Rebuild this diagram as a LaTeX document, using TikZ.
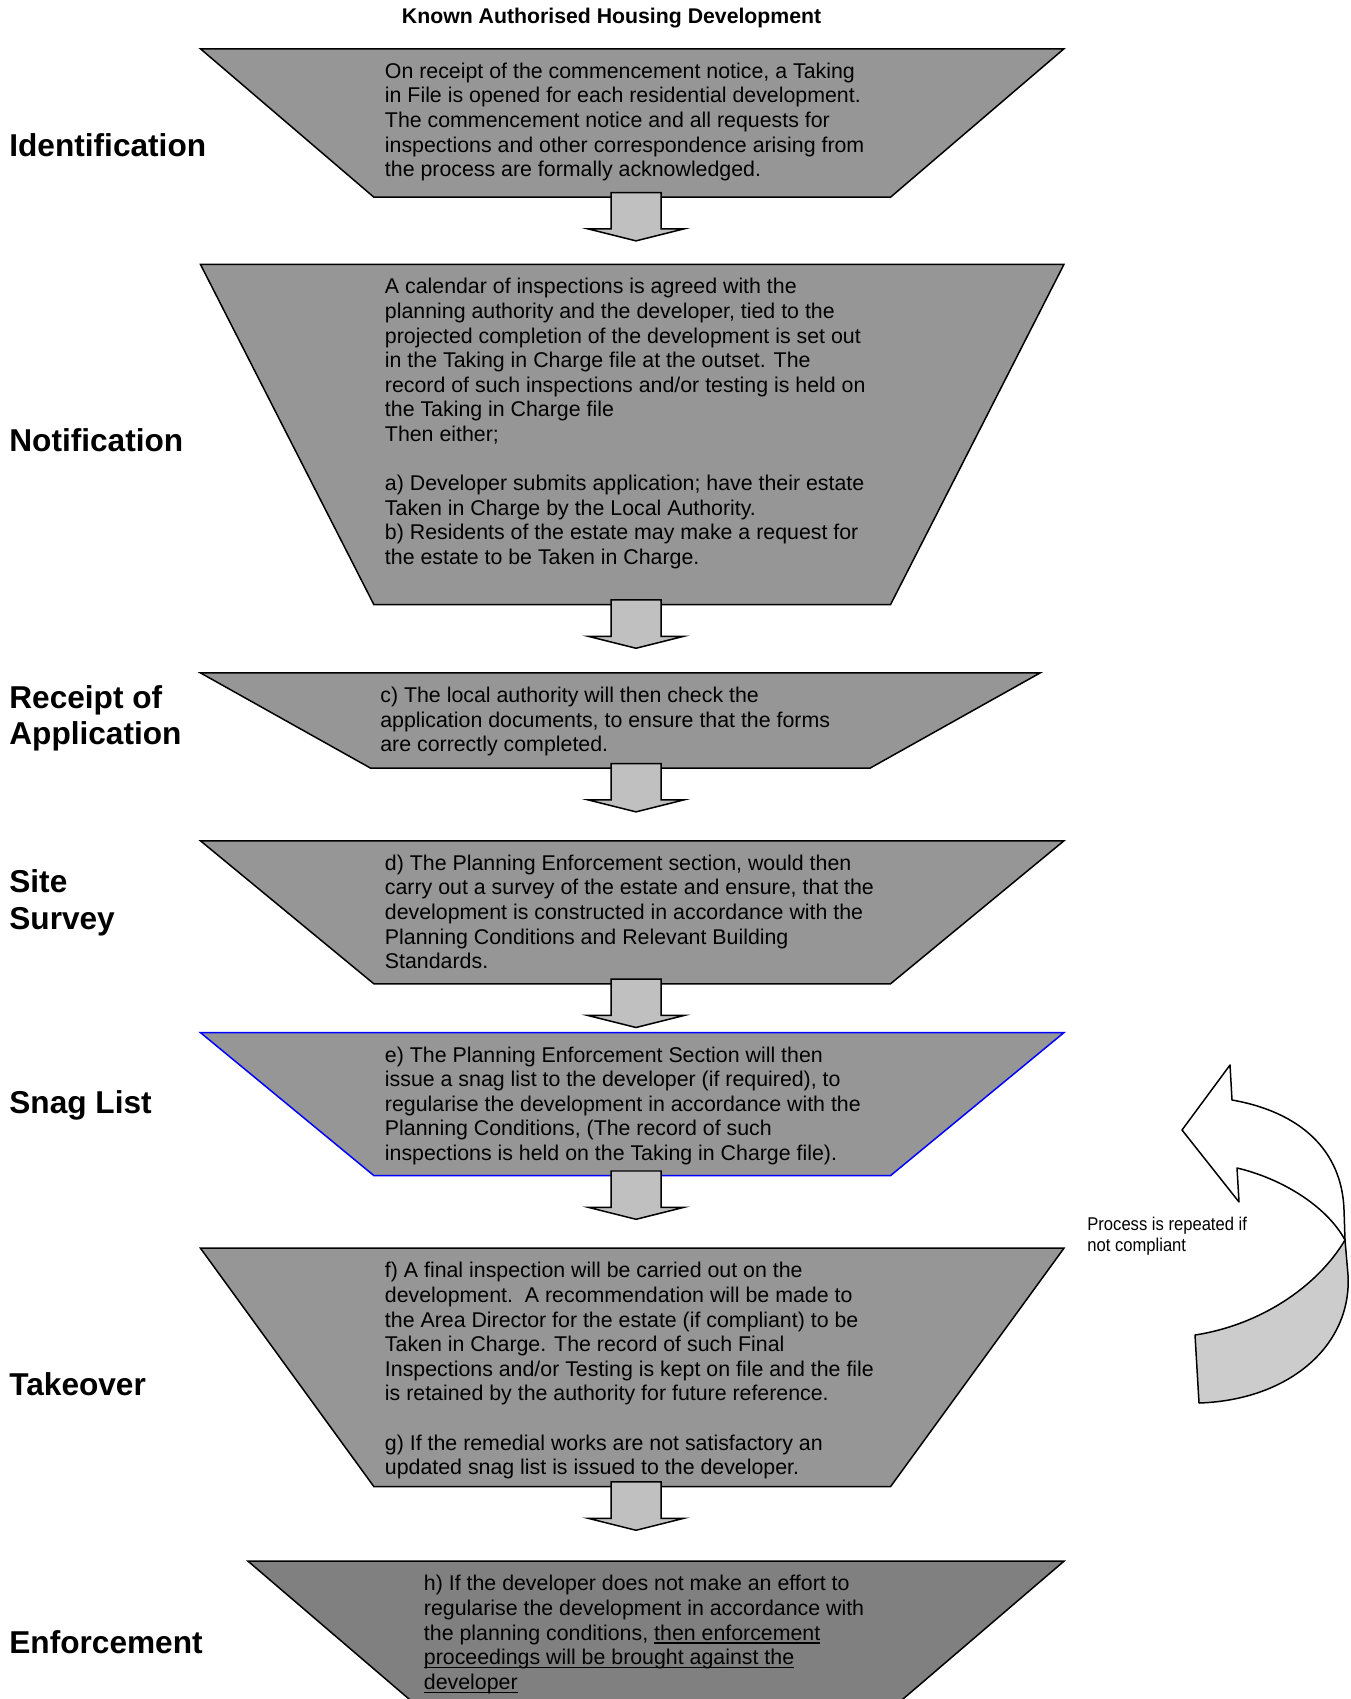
\documentclass[tikz,border=0pt]{standalone}
\usepackage{fontspec}
\setmainfont{Liberation Sans}
\newfontfamily\narrowsans[FakeStretch=0.9]{Liberation Sans}
\usetikzlibrary{
    calc % block arrows between the stages
}

\definecolor{stagegrey}{RGB}{150,150,150}
\definecolor{lastgrey}{RGB}{128,128,128}
\definecolor{arrowgrey}{RGB}{192,192,192}
\definecolor{ribbongrey}{RGB}{204,204,204}

% underline sitting just under the baseline
\newcommand{\lineunder}[1]{\sbox0{#1}\rlap{\rule[-2.2pt]{\wd0}{0.8pt}}\usebox0}

% inverted trapezium over a stage node: #1 style, #2 node, #3 inset of the bottom corners
\newcommand{\stageshape}[3]{%
    \draw[stage_edge, #1] (#2.north west) -- (#2.north east)
        -- ([xshift=-#3]#2.south east) -- ([xshift=#3]#2.south west) -- cycle;
}

% block arrow from one stage down to the next
\newcommand{\stagearrow}[2]{%
    \path (636,0 |- #1.south) coordinate (from) (636,0 |- #2.north) coordinate (to);
    \draw[block_arrow]
        ($(from)!-0.092cm!(to) + (-25,0)$) --
        ($(from)!0.634cm!(to) + (-25,0)$) --
        ($(from)!0.634cm!(to) + (-48,0)$) --
        ($(from)!0.874cm!(to)$) --
        ($(from)!0.634cm!(to) + (48,0)$) --
        ($(from)!0.634cm!(to) + (25,0)$) --
        ($(from)!-0.092cm!(to) + (25,0)$) -- cycle;
}

\begin{document}
\begin{tikzpicture}[x=0.02cm, y=-0.02cm] % 1 unit = 1 pixel, y downwards

    % --- Styles ---
    \tikzset{
        % area of one stage (the trapezium is drawn over it)
        stage_area/.style={
            rectangle,
            inner sep=0pt,
            outer sep=0pt
        },
        stage_edge/.style={
            draw,
            line width=0.85pt,
            line join=miter,
            fill=stagegrey
        },
        % text inside a stage
        stage_text/.style={
            anchor=north west,
            align=left,
            inner sep=0pt,
            font=\fontsize{12.15}{14}\selectfont
        },
        % stage names on the left
        stage_label/.style={
            anchor=north west,
            align=left,
            inner sep=0pt,
            font=\fontsize{18}{20.9}\selectfont\bfseries
        },
        % arrows between the stages
        block_arrow/.style={
            draw,
            line width=0.85pt,
            fill=arrowgrey
        },
        ribbon_edge/.style={
            draw,
            line width=0.85pt,
            line join=round
        }
    }

    \useasboundingbox (0,0) rectangle (1350,1699);
    \fill[white] (0,0) rectangle (1350,1699);
    \clip (0,0) rectangle (1350,1699);

    % --- Title ---
    \node[font=\fontsize{12.1}{14}\selectfont\bfseries] (title) at (611.6,18.5) {Known Authorised Housing Development};

    % --- Stages ---
    \node[stage_area, minimum width=17.272cm, minimum height=2.968cm] (ident) at (632.2,123) {};
    \node[stage_area, minimum width=17.272cm, minimum height=6.804cm] (notif) at (632.2,434.5) {};
    \node[stage_area, minimum width=16.796cm, minimum height=1.906cm] (receipt) at (620.3,720.55) {};
    \node[stage_area, minimum width=17.272cm, minimum height=2.86cm] (survey) at (632.2,912.3) {};
    \node[stage_area, minimum width=17.272cm, minimum height=2.86cm] (snag) at (632.2,1104.1) {};
    \node[stage_area, minimum width=17.272cm, minimum height=4.768cm] (takeover) at (632.2,1367.4) {};
    \node[stage_area, minimum width=16.32cm, minimum height=2.86cm] (enforce) at (656,1632.7) {};

    \stageshape{}{ident}{3.468cm}
    \stageshape{}{notif}{3.468cm}
    \stageshape{}{receipt}{3.404cm}
    \stageshape{}{survey}{3.468cm}
    \stageshape{draw=blue}{snag}{3.468cm}
    \stageshape{}{takeover}{3.468cm}
    \stageshape{fill=lastgrey}{enforce}{3.34cm}

    % --- Arrows ---
    \stagearrow{ident}{notif}
    \stagearrow{notif}{receipt}
    \stagearrow{receipt}{survey}
    \stagearrow{survey}{snag}
    \stagearrow{snag}{takeover}
    \stagearrow{takeover}{enforce}

    % --- Stage texts ---
    \node[stage_text] (identtext) at (384.6,62.5) {On receipt of the commencement notice, a Taking\\in File is opened for each residential development.\\The commencement notice and all requests for\\inspections and other correspondence arising from\\the process are formally acknowledged.};
    \node[stage_text] (notiftext) at (384.6,278.1) {A calendar of inspections is agreed with the\\planning authority and the developer, tied to the\\projected completion of the development is set out\\in the Taking in Charge file at the outset. The\\record of such inspections and/or testing is held on\\the Taking in Charge file\\Then either;\\[14pt]a) Developer submits application; have their estate\\Taken in Charge by the Local Authority.\\b) Residents of the estate may make a request for\\the estate to be Taken in Charge.};
    \node[stage_text] (receipttext) at (380,686.6) {c) The local authority will then check the\\application documents, to ensure that the forms\\are correctly completed.};
    \node[stage_text] (surveytext) at (384.6,854.5) {d) The Planning Enforcement section, would then\\carry out a survey of the estate and ensure, that the\\development is constructed in accordance with the\\Planning Conditions and Relevant Building\\Standards.};
    \node[stage_text] (snagtext) at (384.6,1046.3) {e) The Planning Enforcement Section will then\\issue a snag list to the developer (if required), to\\regularise the development in accordance with the\\Planning Conditions, (The record of such\\inspections is held on the Taking in Charge file).};
    \begin{scope}
        \clip (300,1240) rectangle (1000,1478);
        \node[stage_text] (takeovertext) at (384.6,1262) {f) A final inspection will be carried out on the\\development.\ \ A recommendation will be made to\\the Area Director for the estate (if compliant) to be\\Taken in Charge. The record of such Final\\Inspections and/or Testing is kept on file and the file\\is retained by the authority for future reference.\\[14pt]g) If the remedial works are not satisfactory an\\updated snag list is issued to the developer.};
    \end{scope}
    \node[stage_text] (enforcetext) at (423.6,1575) {h) If the developer does not make an effort to\\regularise the development in accordance with\\the planning conditions, \lineunder{then enforcement}\\\lineunder{proceedings will be brought against the}\\\lineunder{developer}};

    % --- Stage names ---
    \node[stage_label] (identlabel) at (9,133.5) {Identification};
    \node[stage_label] (notiflabel) at (9,428.2) {Notification};
    \node[stage_label] (receiptlabel) at (9,685) {Receipt of\\Application};
    \node[stage_label] (surveylabel) at (9,869.2) {Site\\Survey};
    \node[stage_label] (snaglabel) at (9,1090.2) {Snag List};
    \node[stage_label] (takeoverlabel) at (9,1371.9) {Takeover};
    \node[stage_label] (enforcelabel) at (9,1629.8) {Enforcement};

    % --- Curved arrow: process repeated ---
    \draw[ribbon_edge, fill=white] (1230,1065) -- (1182,1130) -- (1239,1202) -- (1237,1168)
        .. controls (1280,1178) and (1326,1205) .. (1345,1240) -- (1344,1210)
        .. controls (1342,1150) and (1300,1112) .. (1232,1100) -- cycle;
    \draw[ribbon_edge, fill=ribbongrey] (1345,1240)
        .. controls (1317,1287) and (1260,1325) .. (1195,1335) -- (1199,1403)
        .. controls (1290,1400) and (1352,1345) .. (1348,1275) -- cycle;
    \node[anchor=north west, align=left, inner sep=0pt, font=\fontsize{10.5}{12}\selectfont\narrowsans] (repeatnote) at (1087,1217) {Process is repeated if\\not compliant};

\end{tikzpicture}
\end{document}
